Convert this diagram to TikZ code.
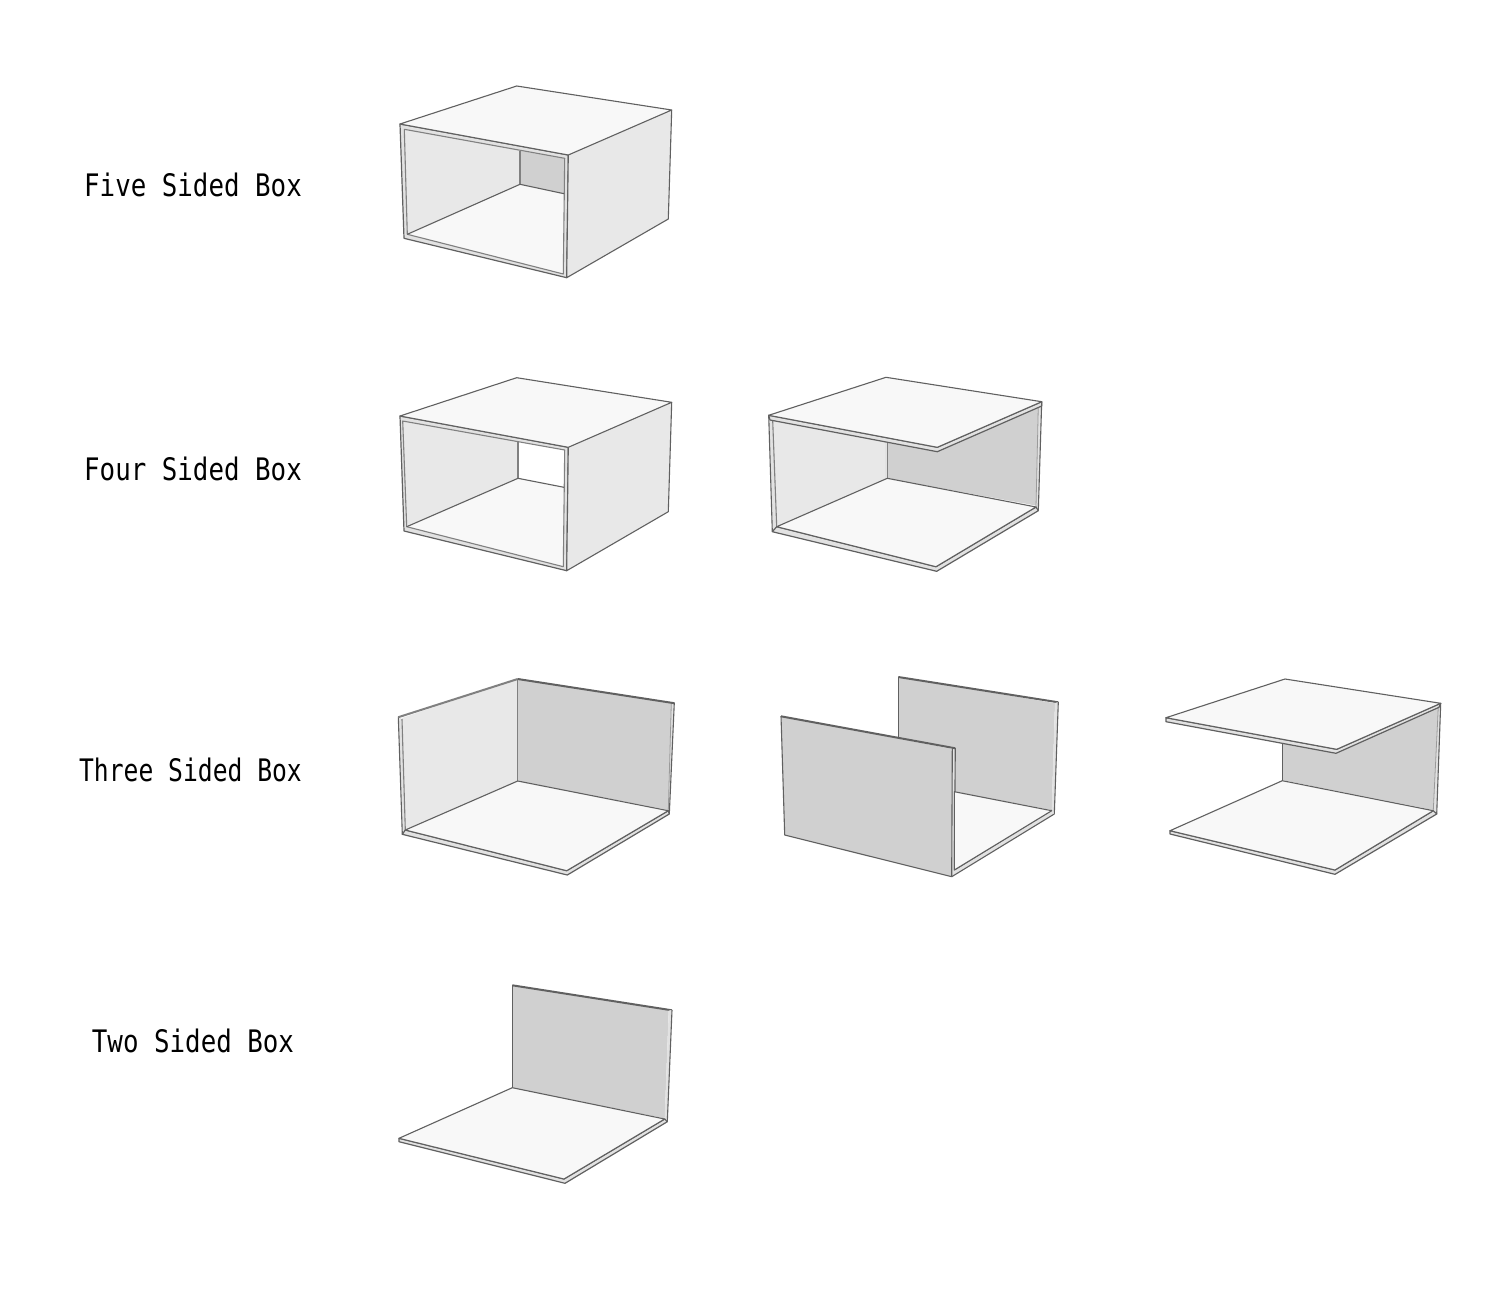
\documentclass[tikz,border=0pt]{standalone}
\usepackage{fontspec}
\newfontfamily\labelfont[FakeStretch=0.833]{DejaVu Sans Mono}
\definecolor{cTop}{HTML}{F8F8F8}
\definecolor{cSide}{HTML}{E8E8E8}
\definecolor{cBack}{HTML}{D0D0D0}
\definecolor{cEdge}{HTML}{E2E2E2}
\definecolor{cLine}{HTML}{606060}
\definecolor{cLineB}{HTML}{808080}
\definecolor{cLineC}{HTML}{9A9A9A}
\tikzset{
  lightface/.style={fill=cTop,draw=cLine,line width=1.1pt,line join=round},
  sideface/.style={fill=cSide,draw=none},
  edgeface/.style={fill=cEdge,draw=cLine,line width=1.2pt,line join=round},
  stripface/.style={fill=cEdge,draw=none},
  hair/.style={draw=cLineB,line width=1.1pt,line join=round},
  thin hair/.style={draw=cLineC,line width=0.8pt,line join=round},
  outline/.style={draw=cLine,line width=1.1pt,line join=round},
  ridge/.style={draw=cLine,line width=2pt,line join=round},
  boxlabel/.style={font=\labelfont\fontsize{31}{31}\selectfont,text=black,inner sep=0pt,anchor=center}
}
\begin{document}
\begin{tikzpicture}[x=1pt,y=-1pt]
\useasboundingbox[fill=white] (0,0) rectangle (1500,1296);

\node[boxlabel] (lfive) at (193,185) {Five Sided Box};
\node[boxlabel] (lfour) at (193,469) {Four Sided Box};
\node[boxlabel,xscale=0.955] (lthree) at (190.5,770) {Three Sided Box};
\node[boxlabel] (ltwo) at (193,1041) {Two Sided Box};

% ---------- Five sided
\draw[edgeface] (400,124) -- (568.3,155) -- (566.7,277.7) -- (404,238.3) -- cycle;
\fill[cSide] (404.3,129.3) -- (520,151) -- (520,184.3) -- (407.3,234.3) -- cycle;
\fill[cBack] (520,151) -- (564.7,158.3) -- (564,193.7) -- (520,184.3) -- cycle;
\fill[cTop] (520,184.3) -- (564,193.7) -- (563.3,274) -- (407.3,234.3) -- cycle;
\draw[hair] (404.3,129.3) -- (564.7,158.3) -- (563.3,274) -- (407.3,234.3) -- cycle;
\draw[hair] (520,151) -- (520,184.3);
\draw[outline] (407.3,234.3) -- (520,184.3) -- (564,193.7);
\draw[sideface] (568.3,155) -- (671.7,110) -- (668.3,219) -- (566.7,277.7) -- cycle;
\draw[outline] (568.3,155) -- (566.7,277.7) -- (668.3,219) -- (671.7,110);
\draw[lightface] (516.7,86) -- (671.7,110) -- (568.3,155) -- (400,124) -- cycle;

% ---------- Four sided, closed
\draw[edgeface] (400,416) -- (568.3,447.3) -- (566.7,570.7) -- (404,531) -- cycle;
\fill[cSide] (402.7,421) -- (518,441.7) -- (518,478.3) -- (406.7,526.7) -- cycle;
\fill[white] (518,441.7) -- (564.7,450) -- (564,487.3) -- (518,478.3) -- cycle;
\fill[cTop] (518,478.3) -- (564,487.3) -- (563.3,566.7) -- (406.7,526.7) -- cycle;
\draw[hair] (402.7,421) -- (564.7,450) -- (563.3,566.7) -- (406.7,526.7) -- cycle;
\draw[hair] (518,441.7) -- (518,478.3);
\draw[outline] (406.7,526.7) -- (518,478.3) -- (564,487.3);
\draw[sideface] (568.3,447.3) -- (671.7,402.3) -- (668.3,511.7) -- (566.7,570.7) -- cycle;
\draw[outline] (568.3,447.3) -- (566.7,570.7) -- (668.3,511.7) -- (671.7,402.3);
\draw[lightface] (516.7,377.7) -- (671.7,402.3) -- (568.3,447.3) -- (400,416) -- cycle;

% ---------- Four sided, open front
\fill[cBack] (887.3,441.7) -- (1041.7,402) -- (1038.3,506) -- (887.3,478.3) -- cycle;
\fill[stripface] (1038.3,406) -- (1041.7,402) -- (1038.3,510.7) -- (1036,507) -- cycle;
\draw[outline] (1041.7,402) -- (1038.3,510.7);
\draw[thin hair] (1038.3,406) -- (1036,507);
\fill[stripface] (768.7,415.3) -- (772.7,420.7) -- (776.7,526.7) -- (772.3,531.7) -- cycle;
\draw[outline] (768.7,415.3) -- (772.3,531.7);
\fill[cSide] (772.7,420.7) -- (887.3,441.7) -- (887.3,478.3) -- (776.7,526.7) -- cycle;
\draw[hair] (772.7,420.7) -- (776.7,526.7);
\fill[stripface] (885.2,441.3) -- (887.3,441.7) -- (887.3,478.3) -- (885.2,479.2) -- cycle;
\draw[hair] (887.3,441.7) -- (887.3,478.3);
\draw[edgeface] (772.3,531.7) -- (776.7,526.7) -- (936,566.7) -- (1036,507) -- (1038.3,510.7) -- (936.7,571.3) -- cycle;
\draw[lightface] (887.3,478.3) -- (1036,507) -- (936,566.7) -- (776.7,526.7) -- cycle;
\draw[edgeface] (768.7,415.3) -- (937.3,447.3) -- (1041.7,401.7) -- (1041.7,406) -- (937.3,451.7) -- (770,420) -- cycle;
\draw[lightface] (886,377.3) -- (1041.7,401.7) -- (937.3,447.3) -- (768.7,415.3) -- cycle;

% ---------- Three sided, corner
\fill[cBack] (517.7,678.3) -- (674,702.7) -- (668.3,810) -- (517.7,781) -- cycle;
\fill[cSide] (402,718) -- (517.7,678.3) -- (517.7,781) -- (405.3,830) -- cycle;
\fill[stripface] (671.3,703) -- (674.3,702.7) -- (669.3,814) -- (668.3,810.7) -- cycle;
\draw[outline] (674.3,702.7) -- (669.3,814);
\draw[thin hair] (671.3,703.5) -- (668.3,810.7);
\fill[stripface] (398.3,716.7) -- (402,719) -- (405.3,830) -- (402.3,834.3) -- cycle;
\draw[outline] (398.3,716.7) -- (402.3,834.3);
\draw[hair] (402,719) -- (405.3,830);
\draw[hair] (517.7,679) -- (517.7,781);
\draw[ridge,draw=cLineB] (398.3,717.2) -- (517.7,679);
\draw[ridge] (517.7,679) -- (674.3,703.2);
\draw[edgeface] (402.3,834.3) -- (405.3,830) -- (566.7,870.7) -- (668.3,810.7) -- (669.3,814) -- (567.3,875) -- cycle;
\draw[lightface] (517.7,781) -- (668.3,810.7) -- (566.7,870.7) -- (405.3,830) -- cycle;

% ---------- Three sided, walls
\fill[cBack] (898.3,676.7) -- (1055,703.3) -- (1051.7,810) -- (954.3,791.7) -- (954.3,748) -- (898.3,738) -- cycle;
\draw[ridge] (898.3,677) -- (1058.3,702.3);
\draw[outline] (898.3,676.7) -- (898.3,738);
\fill[stripface] (1055,703) -- (1058.3,702) -- (1054.3,814) -- (1051.7,810) -- cycle;
\draw[outline] (1058.3,702) -- (1054.3,814);
\fill[stripface] (952.3,749) -- (955.3,748) -- (954.3,870) -- (1051.7,810) -- (1054.3,814) -- (951.7,876.7) -- cycle;
\draw[outline] (955.3,748) -- (954.3,870) -- (1051.7,810);
\draw[outline] (951.7,876.7) -- (1054.3,814);
\draw[lightface] (954.3,791.7) -- (1051.7,810.7) -- (954.3,870) -- cycle;
\fill[cBack] (781,716) -- (952.3,749) -- (951.7,876.7) -- (784.7,835) -- cycle;
\draw[outline] (952.3,749) -- (951.7,876.7) -- (784.7,835) -- (781,716);
\draw[ridge] (781,716.3) -- (955.3,748.3);

% ---------- Three sided, top and bottom
\fill[cBack] (1282.3,744) -- (1438.3,708.3) -- (1433.3,810) -- (1282.3,780) -- cycle;
\draw[outline] (1282.3,740) -- (1282.3,780);
\fill[stripface] (1438.3,706) -- (1440.7,703.3) -- (1436.7,814) -- (1433.3,810) -- cycle;
\draw[outline] (1440.7,703.3) -- (1436.7,814);
\draw[thin hair] (1438.3,707) -- (1433.3,810);
\draw[edgeface] (1170,830.7) -- (1335,870) -- (1433.3,810.7) -- (1436.7,814) -- (1335,874.3) -- (1170,834) -- cycle;
\draw[lightface] (1282.3,780.7) -- (1433.3,810.7) -- (1335,870) -- (1170,830.7) -- cycle;
\draw[edgeface] (1166,717.7) -- (1336.7,749.3) -- (1440.7,703.3) -- (1439,707.3) -- (1336,753.3) -- (1166,721.7) -- cycle;
\draw[lightface] (1285,679) -- (1440.7,703.3) -- (1336.7,749.3) -- (1166,717.7) -- cycle;

% ---------- Two sided
\fill[cBack] (512.3,985) -- (668.7,1010) -- (664.7,1118.3) -- (512.3,1087.7) -- cycle;
\draw[ridge] (512.3,985.3) -- (672,1010.3);
\draw[outline] (512.3,985) -- (512.3,1087.7);
\fill[stripface] (668.7,1010.5) -- (672,1010) -- (667.3,1121.7) -- (664.7,1118.3) -- cycle;
\draw[outline] (672,1010) -- (667.3,1121.7);
\draw[edgeface] (399,1138.3) -- (564,1179) -- (664.7,1119) -- (667.3,1121.7) -- (565,1183.3) -- (399,1141.7) -- cycle;
\draw[lightface] (512.3,1087.7) -- (664.7,1119) -- (564,1179) -- (399,1138.3) -- cycle;
\end{tikzpicture}
\end{document}
